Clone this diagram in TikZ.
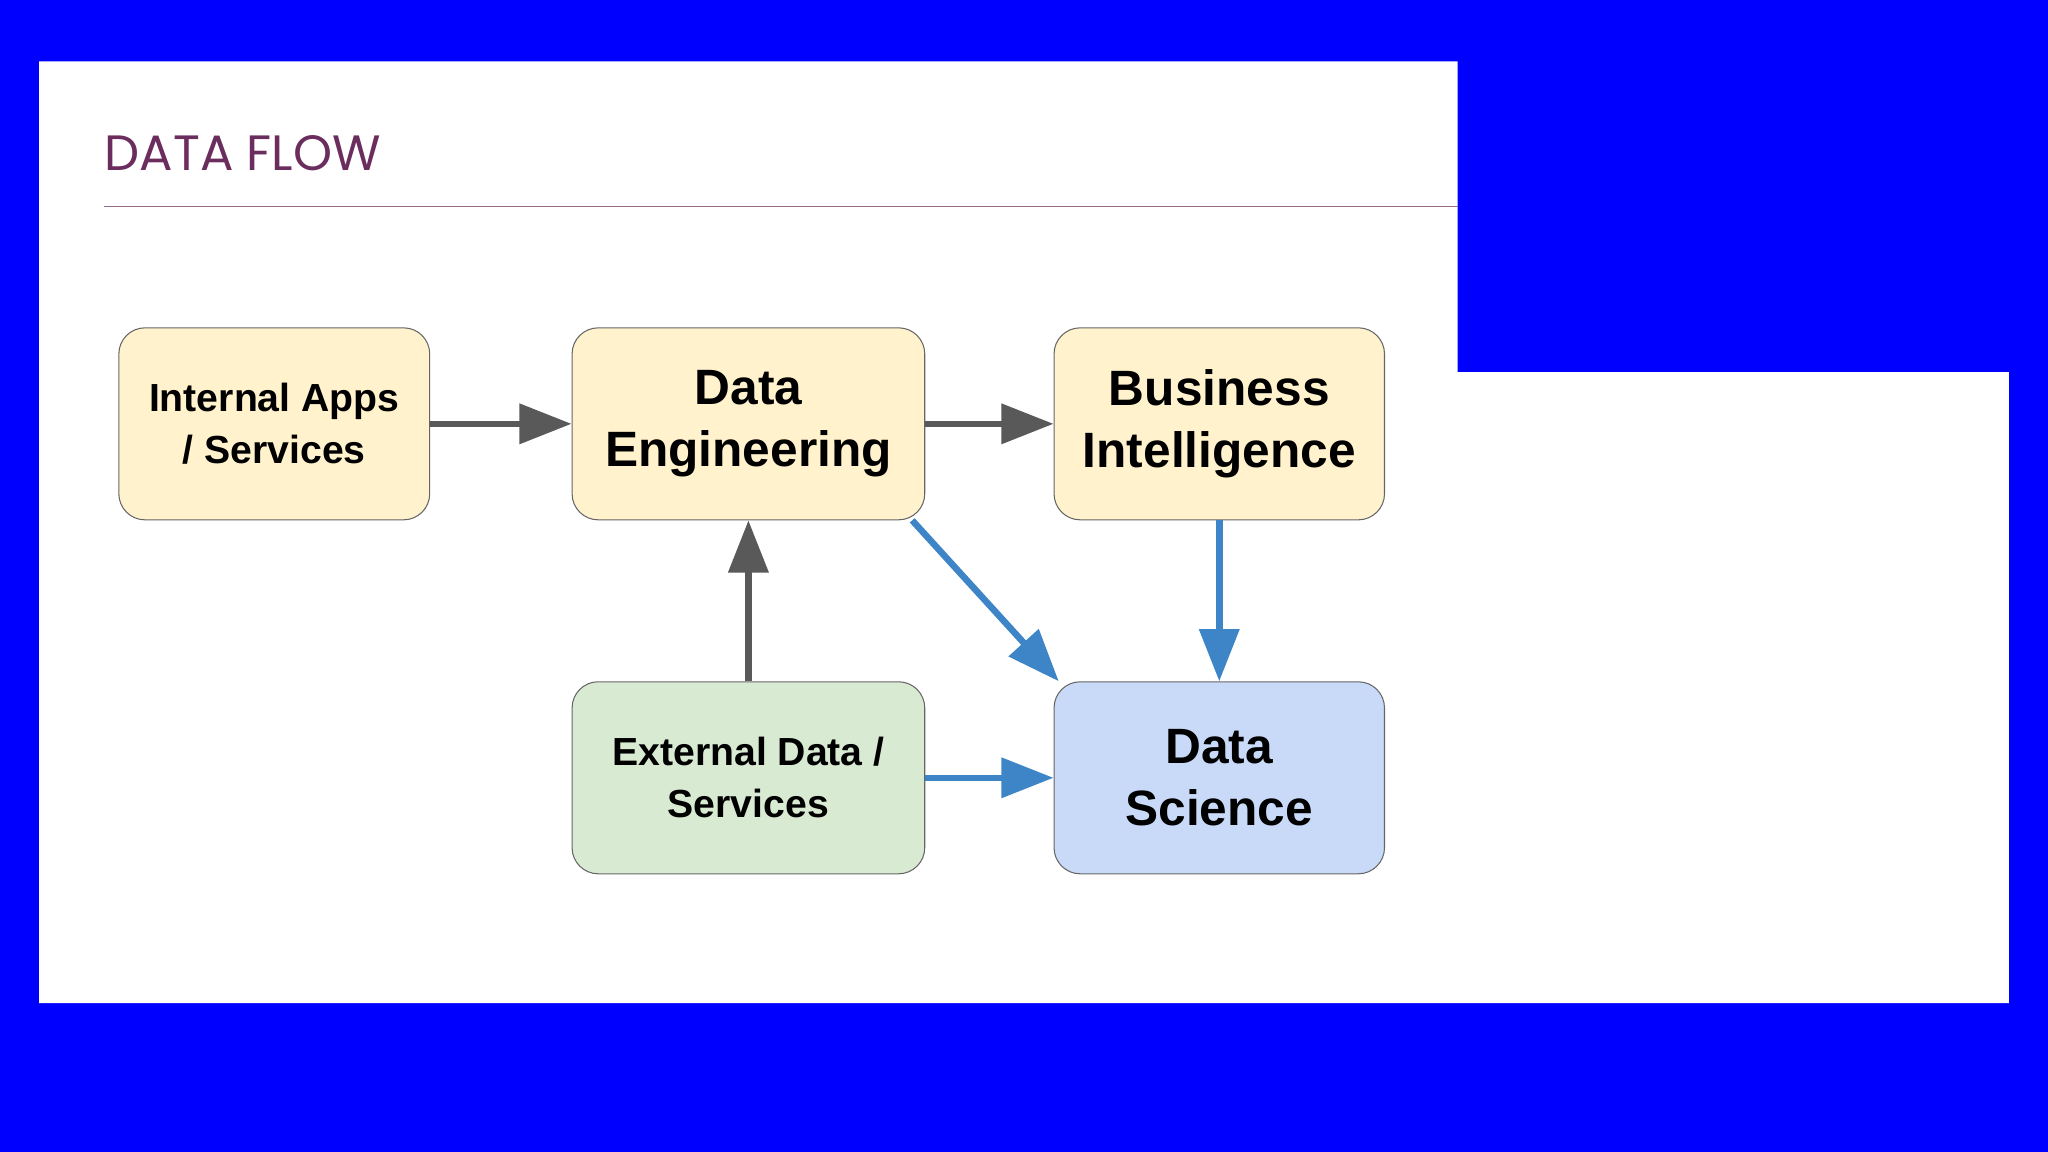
\documentclass[tikz,border=0pt]{standalone}
\usepackage{fontspec}
\setmainfont{Liberation Sans}
\newfontfamily\titlefont{Poppins}
\usetikzlibrary{arrows.meta}
\definecolor{bgblue}{HTML}{0000FF}
\definecolor{ttl}{HTML}{6B2C5E}
\definecolor{yel}{HTML}{FFF2CC}
\definecolor{grn}{HTML}{D9EAD3}
\definecolor{blu}{HTML}{C9DAF8}
\definecolor{garrow}{HTML}{595959}
\definecolor{barrow}{HTML}{3D85C6}
\begin{document}
\begin{tikzpicture}[x=1pt,y=-1pt,
  box/.style={draw=black!60,line width=0.8pt,rounded corners=20pt,align=center,font=\bfseries},
  ga/.style={draw=garrow,line width=5pt,-{Triangle[length=40pt,width=30pt]}},
  ba/.style={draw=barrow,line width=5pt,-{Triangle[length=40pt,width=30pt]}}]
\fill[bgblue] (0,0) rectangle (1568,882);
\fill[white] (30,47) -- (1116,47) -- (1116,285) -- (1538,285) -- (1538,768) -- (30,768) -- cycle;
\node[anchor=west,text=ttl,font=\titlefont\fontsize{38}{40}\selectfont,inner sep=0] (t) at (80,117) {DATA FLOW};
\draw[ttl!70,line width=1pt] (80,158) -- (1116,158);
\node[box,fill=yel,minimum width=238pt,minimum height=147pt,font=\bfseries\fontsize{30}{40}\selectfont] (ia) at (210,324.5) {Internal Apps\\/ Services};
\node[box,fill=yel,minimum width=270pt,minimum height=147pt,font=\bfseries\fontsize{38}{48}\selectfont] (de) at (573,324.5) {Data\\Engineering};
\node[box,fill=yel,minimum width=253pt,minimum height=147pt,font=\bfseries\fontsize{38}{48}\selectfont] (bi) at (933.5,324.5) {Business\\Intelligence};
\node[box,fill=grn,minimum width=270pt,minimum height=147pt,font=\bfseries\fontsize{30}{40}\selectfont] (ex) at (573,595.5) {External Data /\\Services};
\node[box,fill=blu,minimum width=253pt,minimum height=147pt,font=\bfseries\fontsize{38}{48}\selectfont] (ds) at (933.5,595.5) {Data\\Science};
\draw[ga] (ia.east) -- (de.west);
\draw[ga] (de.east) -- (bi.west);
\draw[ga] (ex.north) -- (de.south);
\draw[ba] (bi.south) -- (ds.north);
\draw[ba] (ex.east) -- (ds.west);
\draw[ba] (de.south east) ++(-10,0) -- ([xshift=4pt]ds.north west);
\end{tikzpicture}
\end{document}
